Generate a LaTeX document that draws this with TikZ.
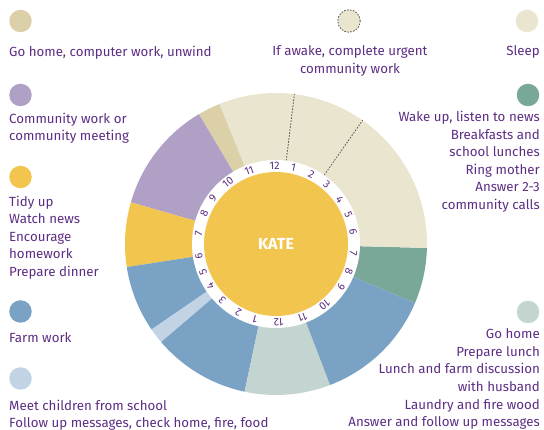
\documentclass[tikz,border=0pt]{standalone}
\usepackage{fontspec}
\setmainfont{Fira Sans}
\definecolor{sleepc}{HTML}{E9E5CF}
\definecolor{unwindc}{HTML}{DCD0A9}
\definecolor{commc}{HTML}{B0A0C6}
\definecolor{tidyc}{HTML}{F2C54F}
\definecolor{farmc}{HTML}{7AA2C4}
\definecolor{meetc}{HTML}{C1D3E4}
\definecolor{lunchc}{HTML}{C4D5D1}
\definecolor{wakec}{HTML}{7AA898}
\definecolor{labelc}{HTML}{5C2D83}
\tikzset{
  legend dot/.style={circle, minimum size=22.5pt, inner sep=0pt},
  legend text/.style={text=labelc, inner sep=0pt, font=\fontsize{13.3}{17.6}\selectfont},
  hour/.style={text=labelc, inner sep=0pt, font=\fontsize{10.8}{10.8}\selectfont},
  awake line/.style={draw=black!65, line width=0.8pt, dash pattern=on 1.6pt off 1.4pt},
}
\begin{document}
\begin{tikzpicture}[x=1pt,y=1pt,yscale=-1,xscale=1]
    \useasboundingbox (0,0) rectangle (544,430);
    % Day wheel, angles counted counterclockwise from 3 o'clock
    \begin{scope}[shift={(276,244)}, yscale=-1]
    \foreach \c/\a/\b in {wakec/-23/-1.5, sleepc/-1.5/112, unwindc/112/120.7, commc/120.7/164,
        tidyc/164/188.8, farmc/188.8/214.5, meetc/214.5/220.5, farmc/220.5/258,
        lunchc/258/291, farmc/291/337}
      \fill[\c] (\a:84) -- (\a:151) arc[start angle=\a, end angle=\b, radius=151] -- (\b:84) -- cycle;
    % awake hours inside the sleep band
    \draw[awake line] (83:84) -- (83:151);
    \draw[awake line] (55:84) -- (55:151);
    % Clock ring and centre
    \fill[white] (0,0) circle[radius=84];
    \fill[tidyc] (0,0) circle[radius=72];
    \node[text=white, font=\bfseries\fontsize{16}{16}\selectfont] (kate) at (0,0) {KATE};
    \foreach \h/\a [count=\i] in {12/91, 1/77, 2/63, 3/49.5, 4/35, 5/22, 6/8.7, 7/-6.8, 8/-20.5,
        9/-33.4, 10/-51.5, 11/-70, 12/-88, 1/-105.5, 2/-119, 3/-133.5, 4/-147, 5/-159,
        6/-171, 7/-188, 8/-203, 9/-216, 10/-232, 11/-250}
      \node[hour, rotate=\a-90] (hour\i) at (\a:78) {\h};
    \end{scope}
    % Legend, top row
    \node[legend dot, fill=unwindc] (unwinddot) at (20.5,21) {};
    \node[legend text, anchor=north west] (unwindtxt) at (9,45.5) {Go home, computer work, unwind};
    \node[legend dot, fill=sleepc, draw=black!65, line width=0.8pt, dash pattern=on 1.6pt off 1.4pt] (awakedot) at (349,21) {};
    \node[legend text, anchor=north, align=center] (awaketxt) at (350,45.5) {If awake, complete urgent\\community work};
    \node[legend dot, fill=sleepc] (sleepdot) at (527,21) {};
    \node[legend text, anchor=north east] (sleeptxt) at (540,45.5) {Sleep};
    % Legend, left column
    \node[legend dot, fill=commc] (commdot) at (20.5,95) {};
    \node[legend text, anchor=north west, align=left] (commtxt) at (9,112.5) {Community work or\\community meeting};
    \node[legend dot, fill=tidyc] (tidydot) at (20.5,177) {};
    \node[legend text, anchor=north west, align=left] (tidytxt) at (9,195.5) {Tidy up\\Watch news\\Encourage\\homework\\Prepare dinner};
    \node[legend dot, fill=farmc] (farmdot) at (20.5,311.5) {};
    \node[legend text, anchor=north west] (farmtxt) at (9,332.5) {Farm work};
    \node[legend dot, fill=meetc] (meetdot) at (20.5,378.5) {};
    \node[legend text, anchor=north west, align=left] (meettxt) at (9,399.5) {Meet children from school\\Follow up messages, check home, fire, food};
    % Legend, right column
    \node[legend dot, fill=wakec] (wakedot) at (528,95) {};
    \node[legend text, anchor=north east, align=right] (waketxt) at (540,111) {Wake up, listen to news\\Breakfasts and\\school lunches\\Ring mother\\Answer 2-3\\community calls};
    \node[legend dot, fill=lunchc] (lunchdot) at (528,312) {};
    \node[legend text, anchor=north east, align=right] (lunchtxt) at (540,328.5) {Go home\\Prepare lunch\\Lunch and farm discussion\\with husband\\Laundry and fire wood\\Answer and follow up messages};
\end{tikzpicture}
\end{document}
